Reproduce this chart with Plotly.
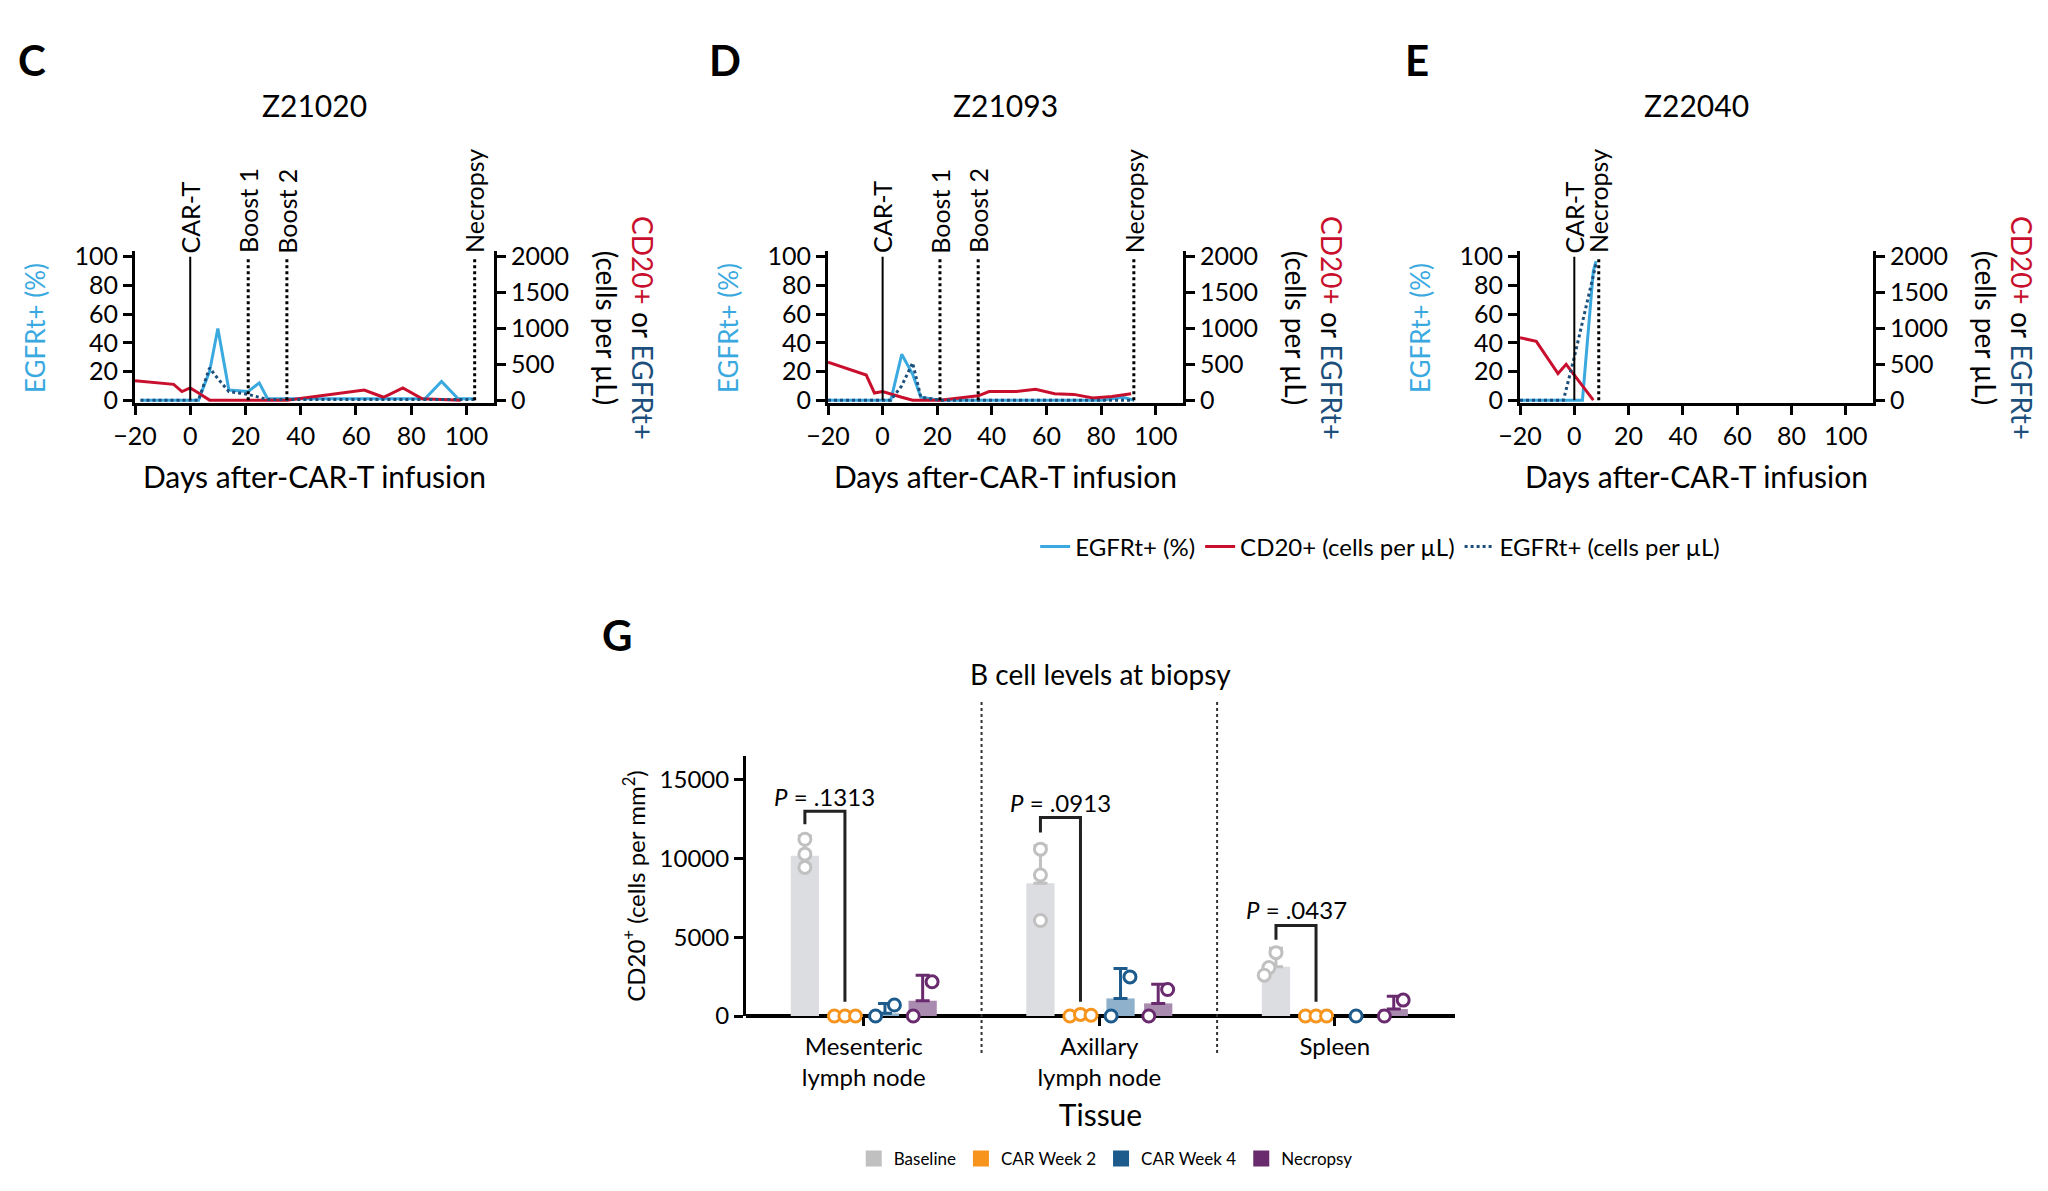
import plotly.graph_objects as go

# ---------- Panels C/D/E data ----------
panels = ["Z21020", "Z21093", "Z22040"]
pct_days = [[-18, 3, 7, 10, 14, 21, 25, 28, 40, 60, 85, 91, 97, 103],
            [-20, 3, 7, 11, 14, 21, 40, 60, 80, 88, 92],
            [-20, 3, 7, 8]]
pct_vals = [[0, 0, 20, 50, 7, 6, 12, 1, 1, 1, 1, 13, 1, 1],
            [0, 0, 32, 18, 2, 0, 0, 0, 0, 2, 0],
            [0, 0, 90, 97]]
cd20_days = [[-20, -6, -3, 0, 3, 7, 21, 35, 63, 70, 77, 84, 98],
             [-20, -6, -3, 0, 7, 11, 21, 35, 39, 49, 56, 63, 70, 77, 84, 91],
             [-20, -14, -6, -3, 0, 7]]
cd20_vals = [[270, 220, 120, 170, 100, 0, 0, 0, 140, 40, 170, 20, 0],
             [530, 350, 100, 120, 40, 0, 0, 60, 120, 120, 150, 90, 80, 30, 50, 90],
             [870, 820, 370, 500, 350, 0]]
egc_days = [[-18, 3, 7, 10, 14, 21, 28, 60, 103],
            [-20, 3, 7, 11, 14, 21, 60, 92],
            [-20, -4, 0, 7, 8]]
egc_vals = [[0, 0, 450, 300, 120, 80, 10, 10, 10],
            [0, 0, 200, 520, 40, 0, 0, 0],
            [0, 0, 600, 1700, 1900]]
events = [[("CAR-T", 0, "solid"), ("Boost 1", 21, "dot"), ("Boost 2", 35, "dot"), ("Necropsy", 103, "dot")],
          [("CAR-T", 0, "solid"), ("Boost 1", 21, "dot"), ("Boost 2", 35, "dot"), ("Necropsy", 92, "dot")],
          [("CAR-T", 0, "solid"), ("Necropsy", 9, "dot")]]
letters = ["C", "D", "E"]

# ---------- Panel G data ----------
tissues = ["Mesenteric<br>lymph node", "Axillary<br>lymph node", "Spleen"]
groups = ["Baseline", "CAR Week 2", "CAR Week 4", "Necropsy"]
bar_means = [[10170, 0, 170, 970],
             [8420, 50, 1115, 800],
             [3120, 0, 0, 440]]
err_tops = [[11430, 0, 800, 2590],
            [10800, 0, 3010, 2020],
            [4300, 0, 0, 1260]]
points = [[[11220, 10270, 9430], [0, 0, 0], [0, 695], [0, 2170]],
          [[10590, 8950, 6060], [0, 100, 50], [0, 2480], [0, 1680]],
          [[3070, 4020, 2590], [0, 0, 0], [0], [0, 1010]]]
p_labels = [".1313", ".0913", ".0437"]
bracket_tops = [13000, 12600, 5750]
bracket_left = [12170, 11640, 4840]
p_text_y = [13960, 13580, 6760]

LB = "#3aa9df"; RED = "#c8102e"; DB = "#1d4f7c"
FONT = "Lato, Noto Sans, sans-serif"
NARROW = "Liberation Sans Narrow, Lato, sans-serif"

fig = go.Figure()
W, H = 2048, 1191
xdoms = [(127, 486), (820, 1175), (1512, 1865)]
ydom = [1 - 395 / H, 1 - 243 / H]
shapes, annos = [], []


def pa(x, y, text, size, color="black", angle=0, family=FONT):
    return dict(xref="paper", yref="paper", x=x / W, y=1 - y / H, text=text, showarrow=False,
                xanchor="center", yanchor="middle", textangle=angle,
                font=dict(family=family, size=size, color=color))


for i in range(3):
    xa = "x" if i == 0 else f"x{i+1}"
    ya_l = f"y{2*i+1}" if i > 0 else "y"
    ya_r = f"y{2*i+2}"
    show = (i == 0)
    fig.add_trace(go.Scatter(x=pct_days[i], y=pct_vals[i], mode="lines", line=dict(color=LB, width=3),
                             name="EGFRt+ (%)", showlegend=show, xaxis=xa, yaxis=ya_l, legend="legend"))
    fig.add_trace(go.Scatter(x=cd20_days[i], y=cd20_vals[i], mode="lines", line=dict(color=RED, width=3),
                             name="CD20+ (cells per µL)", showlegend=show, xaxis=xa, yaxis=ya_r, legend="legend"))
    fig.add_trace(go.Scatter(x=egc_days[i], y=egc_vals[i], mode="lines", line=dict(color=DB, width=3, dash="dot"),
                             name="EGFRt+ (cells per µL)", showlegend=show, xaxis=xa, yaxis=ya_r, legend="legend"))
    dom = [xdoms[i][0] / W, xdoms[i][1] / W]
    axnum = "" if i == 0 else str(i + 1)
    common = dict(showgrid=False, zeroline=False, showline=True, linecolor="black", linewidth=3,
                  ticks="outside", ticklen=9, tickwidth=3, tickcolor="black", automargin=False,
                  tickfont=dict(family=NARROW, size=25, color="black"))
    fig.update_layout(**{
        f"xaxis{axnum}": dict(domain=dom, range=[-20, 110], tickvals=[-20, 0, 20, 40, 60, 80, 100],
                             anchor=ya_l, title=dict(text="Days after-CAR-T infusion", font=dict(family=NARROW, size=30, color="black"), standoff=18), **common),
        f"yaxis{2*i+1 if i>0 else ''}": dict(domain=ydom, range=[-2, 104], tickvals=[0, 20, 40, 60, 80, 100],
                                            anchor=xa, **common),
        f"yaxis{2*i+2}": dict(domain=ydom, range=[-40, 2080], tickvals=[0, 500, 1000, 1500, 2000],
                             anchor=xa, overlaying=ya_l, side="right", **common),
    })
    for (lab, d, dash) in events[i]:
        shapes.append(dict(type="line", xref=xa, yref=ya_l, x0=d, x1=d, y0=0, y1=100,
                           line=dict(color="black", width=2 if dash == "solid" else 3, dash=dash)))
        annos.append(dict(xref=xa, yref=ya_l, x=d, y=101, text=lab, textangle=-90, showarrow=False,
                          xanchor="center", yanchor="bottom", font=dict(family=FONT, size=25, color="black")))
    cx = (xdoms[i][0] + xdoms[i][1]) / 2
    annos.append(pa(cx, 97, panels[i], 30))
    annos.append(pa(xdoms[i][0] - 100, 320, "EGFRt+ (%)", 26, LB, -90))
    annos.append(pa(xdoms[i][1] + 131, 320,
                    f"<span style='color:{RED}'>CD20+</span> or <span style='color:{DB}'>EGFRt+</span><br>(cells per µL)",
                    28, "black", 90))
    annos.append(pa(xdoms[i][0] - 103, 52, f"<b>{letters[i]}</b>", 42))

# ---------- Panel G ----------
gcol_bar = ["#dcdde0", "#f7941d", "#8fb1cc", "#a98bb0"]
gcol_pt = ["#c0c0c0", "#f7941d", "#1d5b8c", "#6a2a6e"]
offs = [-0.25, -0.08, 0.09, 0.25]
jit = {1: [0], 2: [-0.04, 0.04], 3: [-0.045, 0, 0.045]}
for g in range(4):
    xs = [t + offs[g] for t in range(3)]
    means = [bar_means[t][g] for t in range(3)]
    errs = [max(err_tops[t][g] - bar_means[t][g], 0) for t in range(3)]
    fig.add_trace(go.Bar(x=xs, y=means, width=0.12, marker=dict(color=gcol_bar[g], line=dict(width=0)),
                         error_y=dict(type="data", array=errs, arrayminus=[0, 0, 0], symmetric=False,
                                      color=gcol_pt[g], thickness=3, width=7),
                         name=groups[g], showlegend=False, xaxis="x4", yaxis="y7"))
    px, py = [], []
    for t in range(3):
        pts = points[t][g]
        if g == 0:
            js = [0, 0, 0][:len(pts)] if t < 2 else [-0.03, 0.0, -0.05]
        else:
            js = jit[len(pts)]
        for v, j in zip(pts, js):
            px.append(t + offs[g] + j); py.append(v)
    fig.add_trace(go.Scatter(x=px, y=py, mode="markers", cliponaxis=False,
                             marker=dict(symbol="circle", size=12, color="white", line=dict(color=gcol_pt[g], width=3)),
                             showlegend=False, xaxis="x4", yaxis="y7"))
    fig.add_trace(go.Scatter(x=[None], y=[None], mode="markers", name=groups[g], legend="legend2",
                             marker=dict(symbol="square", size=22, color=gcol_pt[g] if g else "#c0c0c0"),
                             xaxis="x4", yaxis="y7"))

for t in range(3):
    xl, xr = t + offs[0], t + offs[1]
    shapes.append(dict(type="path", xref="x4", yref="y7",
                       path=f"M {xl} {bracket_left[t]} L {xl} {bracket_tops[t]} L {xr} {bracket_tops[t]} L {xr} 900",
                       line=dict(color="#222", width=3)))
    annos.append(dict(xref="x4", yref="y7", x=(xl + xr) / 2, y=p_text_y[t], text=f"<i>P</i> = {p_labels[t]}",
                      showarrow=False, xanchor="center", yanchor="middle",
                      font=dict(family=NARROW, size=24, color="black")))
for s in [0.5, 1.5]:
    shapes.append(dict(type="line", xref="x4", yref="paper", x0=s, x1=s, y0=1 - 1045 / H, y1=1 - 692 / H,
                       line=dict(color="#333", width=2, dash="dot")))

fig.update_layout(
    xaxis4=dict(domain=[738 / W, 1447 / W], range=[-0.5, 2.51], anchor="y7", tickvals=[0, 1, 2], ticktext=tissues,
                showgrid=False, zeroline=False, showline=False, ticks="outside", ticklen=9, tickwidth=3, tickcolor="black",
                automargin=False, tickfont=dict(family=NARROW, size=24, color="black"),
                title=dict(text="Tissue", font=dict(family=NARROW, size=30, color="black"), standoff=14)),
    yaxis7=dict(domain=[1 - 1008 / H, 1 - 748 / H], range=[0, 16500], anchor="x4", tickvals=[0, 5000, 10000, 15000],
                tickformat="d", automargin=False,
                showgrid=False, zeroline=True, zerolinecolor="black", zerolinewidth=4, showline=True, linecolor="black",
                linewidth=3, ticks="outside", ticklen=9, tickwidth=3, tickcolor="black",
                tickfont=dict(family=NARROW, size=24, color="black"),
                title=dict(text="CD20<sup>+</sup> (cells per mm<sup>2</sup>)", font=dict(family=FONT, size=24, color="black"), standoff=8)),
)
annos.append(pa(1092, 666, "B cell levels at biopsy", 28))
annos.append(pa(609, 627, "<b>G</b>", 42))

fig.update_layout(
    width=W, height=H, margin=dict(l=0, r=0, t=0, b=0, autoexpand=False), plot_bgcolor="white", paper_bgcolor="white",
    shapes=shapes, annotations=annos, barmode="overlay",
    legend=dict(orientation="h", x=0.67, y=1 - 539 / H, xanchor="center", yanchor="middle",
                font=dict(family=FONT, size=24, color="black")),
    legend2=dict(orientation="h", x=0.536, y=1 - 1151 / H, xanchor="center", yanchor="middle",
                 font=dict(family=NARROW, size=17, color="black")),
)
fig.write_html("out.html")
